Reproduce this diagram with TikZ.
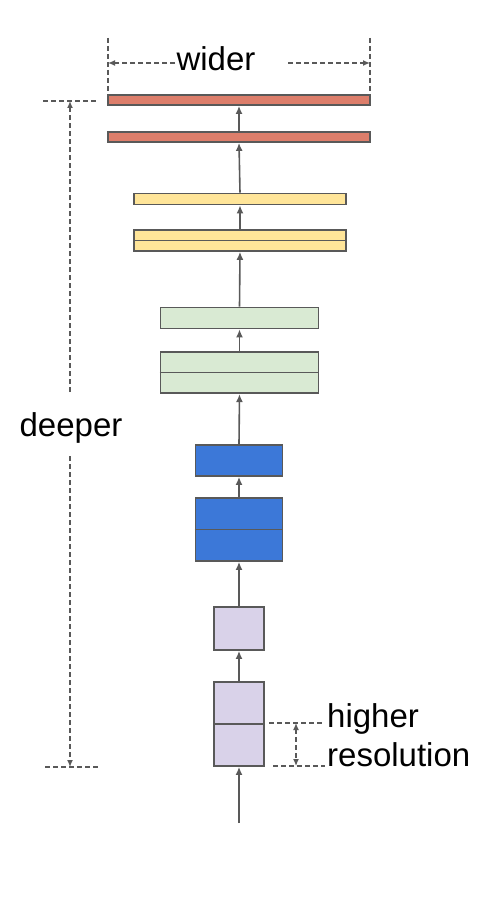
\documentclass[tikz,border=0pt]{standalone}
\usepackage{fontspec}
\setmainfont{Liberation Sans}
\usetikzlibrary{arrows.meta}
\definecolor{edge}{HTML}{595959}
\definecolor{cred}{HTML}{DD7E6B}
\definecolor{cyel}{HTML}{FFE599}
\definecolor{cgrn}{HTML}{D9EAD3}
\definecolor{cblu}{HTML}{3C78D8}
\definecolor{cpur}{HTML}{D9D2E9}
\tikzset{
  layer/.style={draw=edge, line width=1.7pt, rectangle, inner sep=0pt},
  flow/.style={draw=edge, line width=1.6pt, -{Latex[length=8pt,width=7pt]}},
  dim/.style={draw=edge, line width=1.3pt, dash pattern=on 5pt off 3pt},
  dimarrow/.style={dim, {Latex[length=7pt,width=6pt]}-{Latex[length=7pt,width=6pt]}},
  lbl/.style={font=\fontsize{33}{38}\selectfont, inner sep=0pt}
}
\begin{document}
\begin{tikzpicture}[x=1pt,y=-1pt]
\useasboundingbox (0,0) rectangle (498,915);
% layers (center x, center y, width, height)
\node[layer, fill=cred, minimum width=262pt, minimum height=10pt] (r2) at (239,100) {};
\node[layer, fill=cred, minimum width=262pt, minimum height=10pt] (r1) at (239,137) {};
\node[layer, fill=cyel, minimum width=212pt, minimum height=11pt] (y2) at (240,199) {};
\node[layer, fill=cyel, minimum width=212pt, minimum height=21pt] (y1) at (240,240.5) {};
\node[layer, fill=cgrn, minimum width=158pt, minimum height=21pt] (g2) at (239.5,318) {};
\node[layer, fill=cgrn, minimum width=158pt, minimum height=41.5pt] (g1) at (239.5,372.5) {};
\node[layer, fill=cblu, minimum width=87pt, minimum height=31pt] (b2) at (239,460.5) {};
\node[layer, fill=cblu, minimum width=87pt, minimum height=63pt] (b1) at (239,529.5) {};
\node[layer, fill=cpur, minimum width=50pt, minimum height=43pt] (p2) at (239,628.5) {};
\node[layer, fill=cpur, minimum width=50pt, minimum height=84pt] (p1) at (239,724) {};
% middle dividers
\foreach \n in {y1,g1,b1,p1} \draw[edge, line width=1.7pt] (\n.west) -- (\n.east);
% flow
\coordinate (in) at (239,823);
\draw[flow] (in) -- (p1.south);
\draw[flow] (p1.north) -- (p2.south);
\draw[flow] (p2.north) -- (b1.south);
\draw[flow] (b1.north) -- (b2.south);
\draw[flow] (b2.north) -- (g1.south);
\draw[flow] (g1.north) -- (g2.south);
\draw[flow] (g2.north) -- (y1.south);
\draw[flow] (y1.north) -- (y2.south);
\draw[flow] (y2.north) -- (r1.south);
\draw[flow] (r1.north) -- (r2.south);
% wider
\node[lbl, anchor=base] (wider) at (216,71) {wider};
\coordinate (wl1) at (108,38); \coordinate (wl2) at (108,92);
\coordinate (wr1) at (370,38); \coordinate (wr2) at (370,92);
\draw[dim] (wl1) -- (wl2);
\draw[dim] (wr1) -- (wr2);
\coordinate (wla) at (108,63); \coordinate (wlb) at (175,63);
\coordinate (wra) at (288,63); \coordinate (wrb) at (370,63);
\draw[dim, -{Latex[length=7pt,width=6pt]}] (wlb) -- (wla);
\draw[dim, -{Latex[length=7pt,width=6pt]}] (wra) -- (wrb);
% deeper
\node[lbl] (deeper) at (71,428) {deeper};
\coordinate (dt1) at (43,101); \coordinate (dt2) at (97,101);
\coordinate (db1) at (45,767); \coordinate (db2) at (98,767);
\draw[dim] (dt1) -- (dt2);
\draw[dim] (db1) -- (db2);
\coordinate (dta) at (70,101); \coordinate (dtb) at (70,392);
\coordinate (dba) at (70,456); \coordinate (dbb) at (70,767);
\draw[dim, -{Latex[length=7pt,width=6pt]}] (dtb) -- (dta);
\draw[dim, -{Latex[length=7pt,width=6pt]}] (dba) -- (dbb);
% higher resolution
\node[lbl, anchor=base west] (higher) at (327,727) {higher};
\node[lbl, anchor=base west] (reso) at (327,766) {resolution};
\coordinate (h1) at (269,723); \coordinate (h2) at (322,723);
\coordinate (h3) at (273,766); \coordinate (h4) at (325,766);
\draw[dim] (h1) -- (h2);
\draw[dim] (h3) -- (h4);
\coordinate (ha) at (296,723); \coordinate (hb) at (296,766);
\draw[dimarrow] (ha) -- (hb);
\end{tikzpicture}
\end{document}
